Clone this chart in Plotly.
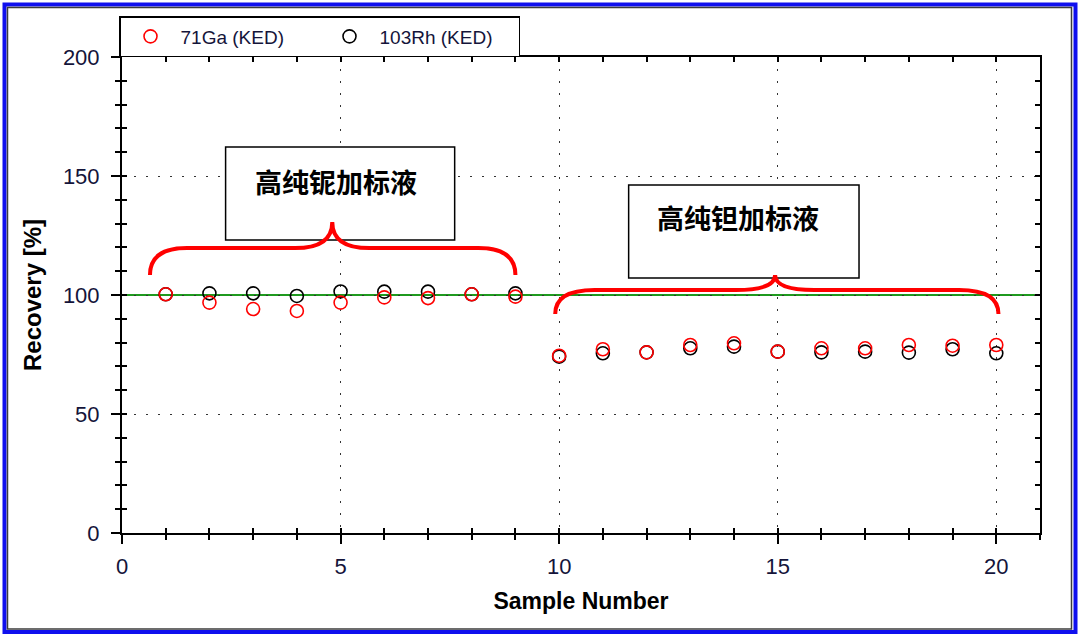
import plotly.graph_objects as go

# sample numbers and recoveries (%)
samples = list(range(1, 21))
ga71 = [100.3, 96.8, 94.1, 93.3, 96.8, 99.0, 98.7, 100.3, 99.3,
        74.5, 77.2, 75.9, 79.0, 79.7, 76.2, 77.6, 77.6, 79.0, 78.7, 79.0]
rh103 = [100.3, 100.7, 100.7, 99.6, 101.5, 101.4, 101.4, 100.3, 100.7,
         74.1, 75.5, 75.9, 77.6, 78.3, 76.2, 75.9, 76.2, 75.8, 77.2, 75.5]
seriesNames = ["71Ga (KED)", "103Rh (KED)"]
groupLabels = ["高纯铌加标液", "高纯钽加标液"]
refLevel = 100

W, H = 1080, 637
L, R, T, B = 122, 40, 57, 104
PW, PH = W - L - R, H - T - B


def px(x):
    return (x - L) / PW


def py(y):
    return (H - B - y) / PH


def brace(x0, x1, xc, yEnd, yFlat, yPeak, r):
    return (f"M {x0},{yEnd} Q {x0},{yFlat} {x0 + r},{yFlat} "
            f"L {xc - r},{yFlat} Q {xc},{yFlat} {xc},{yPeak} "
            f"Q {xc},{yFlat} {xc + r},{yFlat} "
            f"L {x1 - r},{yFlat} Q {x1},{yFlat} {x1},{yEnd}")


fig = go.Figure()

fig.add_trace(go.Scatter(x=samples, y=rh103, mode="markers", name=seriesNames[1],
                         legendrank=2, cliponaxis=False,
                         marker=dict(symbol="circle-open", size=13, color="black",
                                     line=dict(width=1.6))))
fig.add_trace(go.Scatter(x=samples, y=ga71, mode="markers", name=seriesNames[0],
                         legendrank=1, cliponaxis=False,
                         marker=dict(symbol="circle-open", size=13, color="red",
                                     line=dict(width=1.6))))
# dummy trace so the overlay axes (inner ticks) get drawn
fig.add_trace(go.Scatter(x=[None], y=[None], xaxis="x2", yaxis="y2",
                         showlegend=False, hoverinfo="skip"))

tickFont = dict(family="Liberation Sans, Arial", size=22, color="#14143a")
dots = "2px,10px"

fig.update_layout(
    width=W, height=H,
    margin=dict(l=L, r=R, t=T, b=B),
    paper_bgcolor="white", plot_bgcolor="white",
    font=dict(family="Liberation Sans, Arial"),
    xaxis=dict(range=[0, 21], dtick=5, tick0=0, ticks="outside", ticklen=9,
               tickwidth=1.5, tickcolor="black",
               minor=dict(dtick=1, ticks="outside", ticklen=5, tickwidth=1.5,
                          tickcolor="black", showgrid=False),
               showline=True, linecolor="black", linewidth=2, mirror=True,
               showgrid=True, gridcolor="#333333", gridwidth=1, griddash=dots,
               zeroline=False, tickfont=tickFont, ticklabelstandoff=4,
               title=dict(text="<b>Sample Number</b>",
                          font=dict(family="Liberation Sans, Arial", size=23,
                                    color="black"), standoff=14)),
    yaxis=dict(range=[0, 200], dtick=50, tick0=0, ticks="outside", ticklen=9,
               tickwidth=1.5, tickcolor="black",
               minor=dict(dtick=10, ticks="outside", ticklen=5, tickwidth=1.5,
                          tickcolor="black", showgrid=False),
               showline=True, linecolor="black", linewidth=2, mirror=True,
               showgrid=True, gridcolor="#333333", gridwidth=1, griddash=dots,
               zeroline=False, tickfont=tickFont, ticklabelstandoff=7,
               title=dict(text="<b>Recovery [%]</b>",
                          font=dict(family="Liberation Sans, Arial", size=24,
                                    color="black"), standoff=14)),
    xaxis2=dict(range=[0, 21], dtick=1, overlaying="x", anchor="y2",
                ticks="inside", ticklen=5, tickwidth=1.5, tickcolor="black",
                mirror="ticks", showline=False, showgrid=False, zeroline=False,
                showticklabels=False),
    yaxis2=dict(range=[0, 200], dtick=10, overlaying="y", anchor="x2",
                ticks="inside", ticklen=5, tickwidth=1.5, tickcolor="black",
                mirror="ticks", showline=False, showgrid=False, zeroline=False,
                showticklabels=False),
    legend=dict(orientation="h", x=px(119), y=py(16), xanchor="left", yanchor="top",
                bordercolor="black", borderwidth=1.5, bgcolor="white",
                font=dict(family="Liberation Sans, Arial", size=19, color="#14143a"),
                entrywidth=134, entrywidthmode="pixels", itemwidth=50,
                tracegroupgap=0),
)

shapes = [
    # outer window frame
    dict(type="rect", xref="paper", yref="paper", layer="below",
         x0=px(4.5), x1=px(1075.5), y0=py(632), y1=py(4.5),
         line=dict(color="#1010ee", width=4)),
    dict(type="rect", xref="paper", yref="paper", layer="below",
         x0=px(7.5), x1=px(1071.5), y0=py(629), y1=py(7.5),
         line=dict(color="#3c3c3c", width=1.5)),
    # 100 % reference line
    dict(type="line", xref="paper", yref="y", x0=0, x1=1, y0=refLevel, y1=refLevel,
         line=dict(color="#1f9a1f", width=2), layer="below"),
    # label boxes
    dict(type="rect", xref="x", yref="y", x0=2.37, x1=7.61, y0=123.1, y1=162.2,
         fillcolor="white", line=dict(color="black", width=1.5), layer="above"),
    dict(type="rect", xref="x", yref="y", x0=11.59, x1=16.86, y0=107.1, y1=146.2,
         fillcolor="white", line=dict(color="black", width=1.5), layer="above"),
    # curly braces
    dict(type="path", xref="x", yref="y",
         path=brace(0.64, 9.0, 4.81, 108.4, 119.7, 130.7, 0.85),
         line=dict(color="red", width=4)),
    dict(type="path", xref="x", yref="y",
         path=brace(9.91, 20.05, 14.94, 92.0, 102.1, 108.4, 0.9),
         line=dict(color="red", width=4)),
]
fig.update_layout(shapes=shapes)

for label, x, y in [(groupLabels[0], 4.90, 147.9), (groupLabels[1], 14.10, 132.4)]:
    fig.add_annotation(x=x, y=y, xref="x", yref="y", text=label, showarrow=False,
                       font=dict(family="Noto Sans CJK SC", size=27, color="black",
                                 weight="bold"))

fig.write_html("out.html", config={"displayModeBar": False},
               post_script="document.body.style.margin='0';")
